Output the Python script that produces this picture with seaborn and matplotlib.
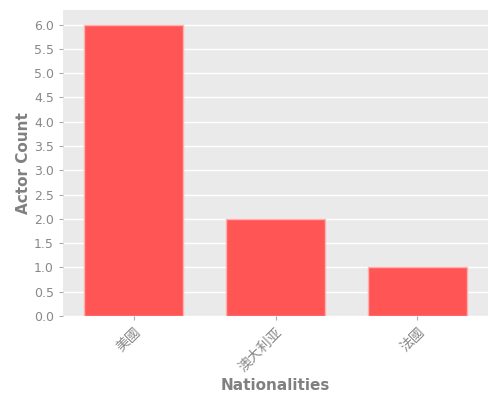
import matplotlib
matplotlib.use("Agg")
import matplotlib.pyplot as plt
import seaborn as sns
import pandas as pd

nationalities = ["美國", "澳大利亚", "法國"]
actor_counts = [6, 2, 1]

sns.set_theme(style="darkgrid")
plt.rcParams['font.family'] = ['DejaVu Sans', 'Noto Sans CJK SC']

df = pd.DataFrame({"Nationalities": nationalities, "Actor Count": actor_counts})

fig, ax = plt.subplots(figsize=(5, 4), dpi=100)
ax.set_facecolor("#EAEAEA")
sns.barplot(data=df, x="Nationalities", y="Actor Count", color="#FF5555",
            saturation=1, width=0.7, edgecolor="#FFB0B0", linewidth=1, ax=ax)

ax.set_xlim(-0.5, 2.5)
ax.set_ylim(0, 6.3)
ax.set_yticks([i * 0.5 for i in range(13)])
ax.yaxis.set_major_formatter(matplotlib.ticker.FormatStrFormatter('%.1f'))
ax.grid(axis="x", visible=False)
ax.grid(axis="y", color="white", linewidth=1)
ax.tick_params(axis="both", colors="#AAAAAA", labelcolor="#888888", labelsize=9,
               length=3, width=0.8, bottom=True, left=True)
ax.tick_params(axis="x", labelsize=10)
plt.setp(ax.get_xticklabels(), rotation=45, ha="right", rotation_mode="anchor")
ax.set_xlabel("Nationalities", fontsize=11, fontweight="bold", color="#808080", labelpad=3)
ax.set_ylabel("Actor Count", fontsize=11, fontweight="bold", color="#808080", labelpad=2)
for s in ax.spines.values():
    s.set_visible(False)

fig.subplots_adjust(left=0.126, right=0.976, top=0.975, bottom=0.21)
fig.savefig("out.png", dpi=100)
